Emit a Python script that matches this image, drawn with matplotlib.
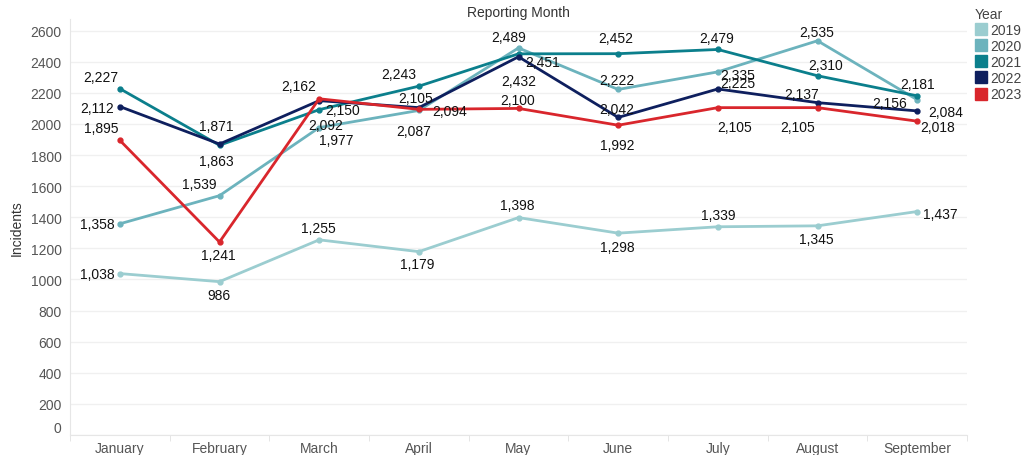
import matplotlib.pyplot as plt
from matplotlib.lines import Line2D

plt.rcParams['font.family'] = ['Liberation Sans', 'DejaVu Sans']

# data
months = ["January", "February", "March", "April", "May", "June", "July", "August", "September"]
years = ["2019", "2020", "2021", "2022", "2023"]
inc_2019 = [1038, 986, 1255, 1179, 1398, 1298, 1339, 1345, 1437]
inc_2020 = [1358, 1539, 1977, 2087, 2489, 2222, 2335, 2535, 2156]
inc_2021 = [2227, 1863, 2092, 2243, 2451, 2452, 2479, 2310, 2181]
inc_2022 = [2112, 1871, 2150, 2105, 2432, 2042, 2225, 2137, 2084]
inc_2023 = [1895, 1241, 2162, 2094, 2100, 1992, 2105, 2105, 2018]
series = [inc_2019, inc_2020, inc_2021, inc_2022, inc_2023]

colors = ["#9bcdd0", "#6cb3bd", "#0b7f8c", "#0e1f5e", "#d9262c"]

# label offsets in pixels (dx right, dy up) for each point
label_offsets = {
    "2019": [(-23, 0), (-1, -13), (-1, 11.5), (-2, -12), (-1, 12.5), (-1, -14), (0, 12), (-1, -13), (23, -2.5)],
    "2020": [(-23, 0), (-20, 12), (17.5, -12), (-5.5, -21), (-10, 11), (-1, 9), (20, -3), (-1, 8.5), (-28, -3)],
    "2021": [(-19, 12), (-3, -16), (7, -15), (-20.5, 12), (24, -8), (-2, 16), (-1, 11), (8, 11), (0, 12)],
    "2022": [(-23, -1), (-3, 18), (23.5, -9), (-3, 10), (0, -24), (-1, 8), (20, 5.5), (-16, 9), (29, -1.5)],
    "2023": [(-18.5, 12), (-1, -13), (-20, 12.5), (31, -2), (-1, 8), (-1, -19.5), (17, -19), (-20, -19), (20.5, -6)],
}

fig = plt.figure(figsize=(10.22, 4.56), dpi=100)
ax = fig.add_axes([70 / 1022, 1 - 436 / 456, 897 / 1022, 416 / 456])

x = list(range(len(months)))
for yr, vals, c in zip(years, series, colors):
    ax.plot(x, vals, color=c, lw=2, marker='o', ms=3.5, zorder=3)
    for xi, v, (dx, dy) in zip(x, vals, label_offsets[yr]):
        ax.annotate(f"{v:,}", (xi, v), xytext=(dx, dy), textcoords='offset pixels',
                    ha='center', va='center', fontsize=10, color='#111111', zorder=4)

ax.set_xlim(-0.5, len(months) - 0.5)
ax.set_ylim(0, 2675)
ax.set_yticks(range(0, 2601, 200))
ax.set_xticks(x)
ax.set_xticklabels(months)
ax.set_xticks([i - 0.5 for i in range(len(months) + 1)], minor=True)
ax.tick_params(axis='x', which='major', length=0, pad=4, labelsize=10, labelcolor='#555555')
ax.tick_params(axis='x', which='minor', length=4, color='#e0e0e0')
ax.tick_params(axis='y', length=0, pad=6, labelsize=10, labelcolor='#555555')
ax.yaxis.get_majorticklabels()[0].set_va('bottom')

ax.grid(axis='y', color='#f0f0f0', lw=1)
ax.set_axisbelow(True)
for s in ['top', 'right']:
    ax.spines[s].set_visible(False)
ax.spines['left'].set_color('#e6e6e6')
ax.spines['bottom'].set_color('#e6e6e6')

ax.set_ylabel("Incidents", fontsize=10, color='#333333', labelpad=5)
fig.text(518 / 1022, 1 - 13 / 456, "Reporting Month", ha='center', va='center', fontsize=10, color='#333333')

handles = [Line2D([], [], marker='s', ls='', ms=9, color=c) for c in colors]
leg = fig.legend(handles, years, title="Year", loc='upper left', bbox_to_anchor=(975 / 1022, 1 - 8 / 456),
                 frameon=False, fontsize=10, title_fontsize=10, handlelength=0.8, handletextpad=0.3,
                 labelspacing=0.15, borderpad=0, borderaxespad=0)
leg._legend_box.align = 'left'
for t in leg.get_texts():
    t.set_color('#444444')
leg.get_title().set_color('#444444')

fig.savefig("out.png", dpi=100)
